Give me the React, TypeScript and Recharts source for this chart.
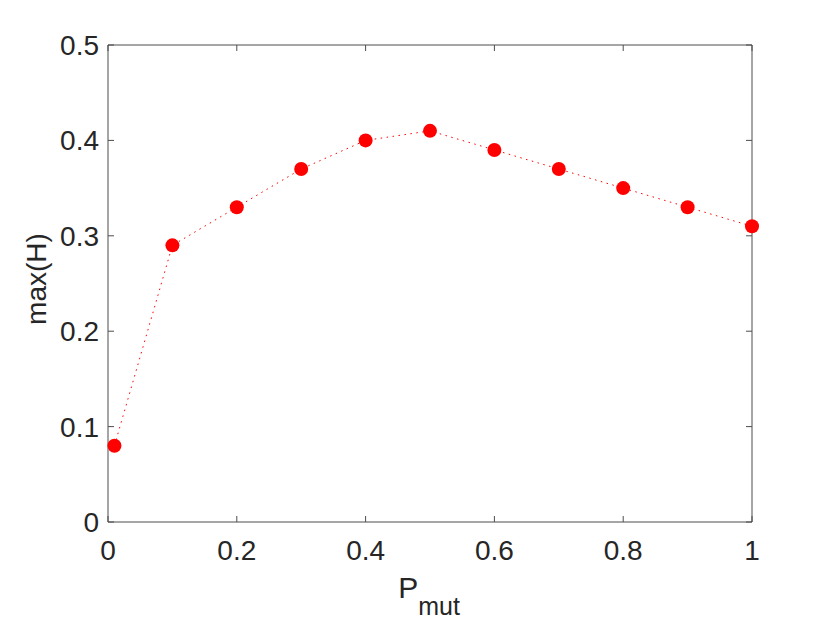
import { LineChart, Line, XAxis, YAxis } from 'recharts';

// P_mut values and the matching max(H)
const pMut = [0.01, 0.1, 0.2, 0.3, 0.4, 0.5, 0.6, 0.7, 0.8, 0.9, 1];
const maxH = [0.08, 0.29, 0.33, 0.37, 0.4, 0.41, 0.39, 0.37, 0.35, 0.33, 0.31];

const xTicks = [0, 0.2, 0.4, 0.6, 0.8, 1];
const yTicks = [0, 0.1, 0.2, 0.3, 0.4, 0.5];

const FONT = '"Liberation Sans", Arial, Helvetica, sans-serif';
const TEXT = '#262626';
const AXIS = '#4d4d4d';
const TICK_LEN = 6;
const BOTTOM_GAP = 18;
const LEFT_GAP = 9;

const data = pMut.map((p, i) => ({ p, h: maxH[i] }));

// inward tick mark + label, drawn from the position recharts hands over
function BottomTick(props: any) {
  const { x, y, payload } = props;
  const axisY = y - BOTTOM_GAP;
  return (
    <g>
      <line x1={x} x2={x} y1={axisY} y2={axisY - TICK_LEN} stroke={AXIS} />
      <text x={x} y={y} dy="0.72em" textAnchor="middle" fill={TEXT} fontSize={28} fontFamily={FONT}>
        {String(payload.value)}
      </text>
    </g>
  );
}

function LeftTick(props: any) {
  const { x, y, payload } = props;
  const axisX = x + LEFT_GAP;
  return (
    <g>
      <line x1={axisX} x2={axisX + TICK_LEN} y1={y} y2={y} stroke={AXIS} />
      <text x={x} y={y} dy="0.36em" textAnchor="end" fill={TEXT} fontSize={28} fontFamily={FONT}>
        {String(payload.value)}
      </text>
    </g>
  );
}

function TopTick(props: any) {
  const { x, y } = props;
  return <line x1={x} x2={x} y1={y} y2={y + TICK_LEN} stroke={AXIS} />;
}

function RightTick(props: any) {
  const { x, y } = props;
  return <line x1={x} x2={x - TICK_LEN} y1={y} y2={y} stroke={AXIS} />;
}

export default function App() {
  return (
    <div style={{ position: 'absolute', left: 0, top: 0, width: 830, height: 623, background: '#fff' }}>
      <LineChart
        width={830}
        height={623}
        data={data}
        margin={{ top: 44, right: 77, left: 28, bottom: 51 }}
      >
        <XAxis
          xAxisId="bottom"
          dataKey="p"
          type="number"
          domain={[0, 1]}
          ticks={xTicks}
          interval={0}
          height={50}
          tickSize={0}
          tickLine={false}
          tickMargin={BOTTOM_GAP}
          stroke={AXIS}
          tick={BottomTick}
        />
        <XAxis
          xAxisId="top"
          orientation="top"
          dataKey="p"
          type="number"
          domain={[0, 1]}
          ticks={xTicks}
          interval={0}
          height={1}
          tickSize={0}
          tickLine={false}
          tickMargin={0}
          stroke={AXIS}
          tick={TopTick}
        />
        <YAxis
          yAxisId="left"
          dataKey="h"
          type="number"
          domain={[0, 0.5]}
          ticks={yTicks}
          interval={0}
          width={80}
          tickSize={0}
          tickLine={false}
          tickMargin={LEFT_GAP}
          stroke={AXIS}
          tick={LeftTick}
        />
        <YAxis
          yAxisId="right"
          orientation="right"
          dataKey="h"
          type="number"
          domain={[0, 0.5]}
          ticks={yTicks}
          interval={0}
          width={1}
          tickSize={0}
          tickLine={false}
          tickMargin={0}
          stroke={AXIS}
          tick={RightTick}
        />
        <Line
          xAxisId="bottom"
          yAxisId="left"
          type="linear"
          dataKey="h"
          stroke="#ff0000"
          strokeWidth={1}
          strokeDasharray="1.5 4.5"
          dot={{ r: 7, fill: '#ff0000', stroke: 'none' }}
          activeDot={false}
          isAnimationActive={false}
        />
      </LineChart>

      {/* axis titles */}
      <svg
        width={830}
        height={623}
        style={{ position: 'absolute', left: 0, top: 0, pointerEvents: 'none' }}
      >
        <text x={429} y={598} textAnchor="middle" fill={TEXT} fontFamily={FONT} fontSize={30}>
          P<tspan dy={17} fontSize={25}>mut</tspan>
        </text>
        <text
          transform="translate(46,279) rotate(-90)"
          textAnchor="middle"
          fill={TEXT}
          fontFamily={FONT}
          fontSize={28}
        >
          max(H)
        </text>
      </svg>
    </div>
  );
}
